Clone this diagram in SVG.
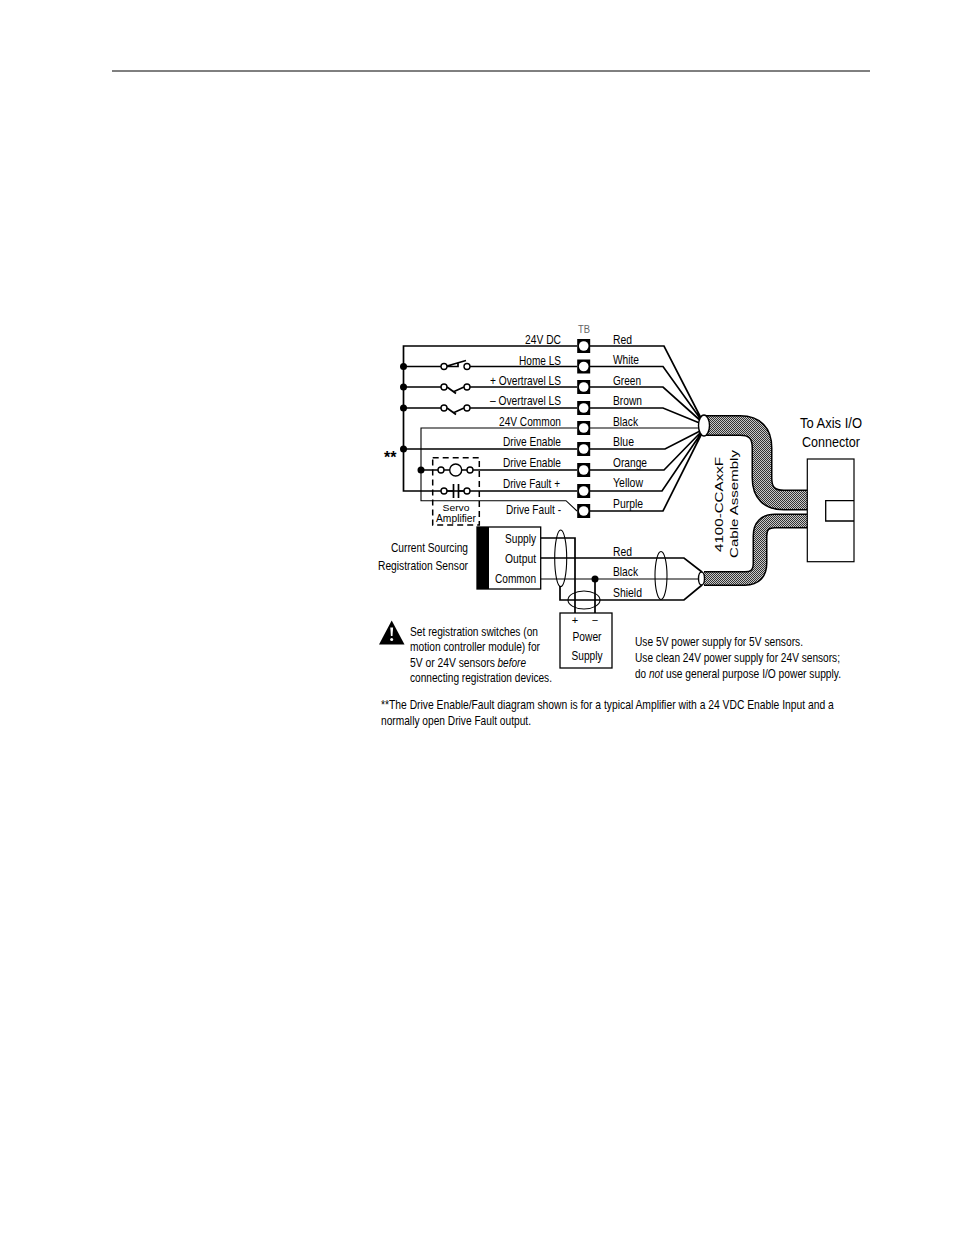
<svg xmlns="http://www.w3.org/2000/svg" width="954" height="1235" viewBox="0 0 954 1235">
<style>
text{font-family:"Liberation Sans",Arial,sans-serif;font-size:13.2px;fill:#000}
.e{text-anchor:end}.m{text-anchor:middle}
.w{fill:none;stroke:#000;stroke-width:1.7}
.t{fill:none;stroke:#000;stroke-width:1.1}
.o{fill:#fff;stroke:#000;stroke-width:1.4}
.d{fill:#000}
.big{font-size:14px}
.i{font-style:italic}
</style>
<defs>
<pattern id="dither" width="2" height="2" patternUnits="userSpaceOnUse"><rect width="2" height="2" fill="#c8c8c8"/><rect width="1" height="1" fill="#333"/><rect x="1" y="1" width="1" height="1" fill="#333"/></pattern>
<g id="term"><rect x="-6.500" y="-7" width="13" height="14" fill="#000"/><circle r="4.800" fill="#fff"/></g>
</defs>
<rect width="954" height="1235" fill="#fff"/>
<line id="header-rule" x1="112" y1="71" x2="870" y2="71" stroke="#000" stroke-width="1"/>

<g id="connectors">
<path class="w" d="M577,346H403.500V491H577"/>
<path class="w" d="M403.500,366.500H441M470,366.500H577M403.500,387H441M470,387H577M403.500,408H441M470,408H577M403.500,449H577"/>
<path class="t" d="M577,428H421V500.700H566L577,511"/>
<path class="w" d="M421,470H438M473,470H577"/>
<path class="w" d="M590,346H664L702,420M590,366.500H663L702,421M590,387H663L702,422M590,408H663L702,424"/>
<path class="t" d="M590,428H700"/>
<path class="w" d="M590,449H665L702,430M590,470H664L702,431M590,491H662L702,432M590,511H663L702,433"/>
<path class="w" d="M540,538H575V613M540,558H684L702,572M595,579V613"/>
<path class="t" d="M540,579H700"/>
<path class="w" d="M560,586V600H684L702,585"/>
<g id="junctions">
<circle class="d" cx="403.500" cy="366.500" r="3.500"/><circle class="d" cx="403.500" cy="387" r="3.500"/><circle class="d" cx="403.500" cy="408" r="3.500"/><circle class="d" cx="403.500" cy="449" r="3.500"/><circle class="d" cx="421" cy="470" r="3.500"/><circle class="d" cx="595" cy="579" r="3.500"/>
</g>
<g id="cable-upper" fill="none">
<path d="M706,425.500H740Q762,425.500 762,448V478Q762,500 784,500H807" stroke="#000" stroke-width="21"/>
<path d="M706,425.500H740Q762,425.500 762,448V478Q762,500 784,500H807" stroke="url(#dither)" stroke-width="18"/>
</g>
<g id="cable-lower" fill="none">
<path d="M704,578.500H745Q760,578.500 760,563V536Q760,521 775,521H807" stroke="#000" stroke-width="15"/>
<path d="M704,578.500H745Q760,578.500 760,563V536Q760,521 775,521H807" stroke="url(#dither)" stroke-width="12"/>
</g>
<ellipse class="o" cx="704" cy="425.500" rx="5.500" ry="10.500"/>
<ellipse class="o" cx="701.500" cy="578.500" rx="3" ry="6.500"/>
<g fill="none" stroke="#000" stroke-width="1.100">
<ellipse cx="560.700" cy="558.300" rx="6" ry="28.300"/>
<ellipse cx="584" cy="600" rx="16" ry="9"/>
<ellipse cx="661" cy="575.500" rx="6" ry="24"/>
</g>
</g>

<g id="terminal-block">
<text x="584" y="333" class="m" style="font-size:10px;fill:#666" textLength="12" lengthAdjust="spacingAndGlyphs">TB</text>
<use href="#term" x="583.700" y="346"/><use href="#term" x="583.700" y="366.500"/><use href="#term" x="583.700" y="387"/><use href="#term" x="583.700" y="408"/><use href="#term" x="583.700" y="428"/><use href="#term" x="583.700" y="449"/><use href="#term" x="583.700" y="470"/><use href="#term" x="583.700" y="491"/><use href="#term" x="583.700" y="511"/>
</g>

<g id="switch-home">
<circle class="o" cx="444" cy="366.500" r="3"/><circle class="o" cx="467" cy="366.500" r="3"/>
<path class="w" d="M447,366.500H458V362.500M447,366L466,360.500"/>
</g>
<g id="switch-over-plus">
<circle class="o" cx="444" cy="387" r="3"/><circle class="o" cx="467" cy="387" r="3"/>
<path class="w" d="M447,387L456,393.500M453,392L464,387"/>
</g>
<g id="switch-over-minus">
<circle class="o" cx="444" cy="408" r="3"/><circle class="o" cx="467" cy="408" r="3"/>
<path class="w" d="M447,408L456,414.500M453,413L464,408"/>
</g>
<g id="servo-amplifier">
<rect x="432.700" y="457.700" width="46.600" height="67.300" fill="none" stroke="#000" stroke-width="1.500" stroke-dasharray="6 4"/>
<circle class="o" cx="441" cy="470" r="3"/><circle class="o" cx="455.700" cy="470" r="6"/><circle class="o" cx="470" cy="470" r="3"/>
<path class="w" d="M444,470H449.700M461.700,470H467"/>
<circle class="o" cx="444" cy="491" r="3"/><circle class="o" cx="467" cy="491" r="3"/>
<path class="w" d="M447,491H453.500M453.500,484V498M458.500,484V498M458.500,491H464"/>
<text x="456" y="511" class="m" textLength="27" lengthAdjust="spacingAndGlyphs" style="font-size:9.500px">Servo</text>
<text x="456" y="522" class="m" textLength="40" lengthAdjust="spacingAndGlyphs" style="font-size:10.500px">Amplifier</text>
</g>

<g id="left-labels">
<text x="561" y="343.500" class="e" textLength="36" lengthAdjust="spacingAndGlyphs">24V DC</text>
<text x="561" y="364.500" class="e" textLength="42" lengthAdjust="spacingAndGlyphs">Home LS</text>
<text x="561" y="385" class="e" textLength="71" lengthAdjust="spacingAndGlyphs">+ Overtravel LS</text>
<text x="561" y="405" class="e" textLength="71" lengthAdjust="spacingAndGlyphs">– Overtravel LS</text>
<text x="561" y="426" class="e" textLength="62" lengthAdjust="spacingAndGlyphs">24V Common</text>
<text x="561" y="446" class="e" textLength="58" lengthAdjust="spacingAndGlyphs">Drive Enable</text>
<text x="561" y="466.500" class="e" textLength="58" lengthAdjust="spacingAndGlyphs">Drive Enable</text>
<text x="560" y="487.500" class="e" textLength="57" lengthAdjust="spacingAndGlyphs">Drive Fault +</text>
<text x="561" y="513.500" class="e" textLength="55" lengthAdjust="spacingAndGlyphs">Drive Fault -</text>
<text x="384" y="463" style="font-size:16px;font-weight:bold">**</text>
</g>

<g id="wire-labels">
<text x="613" y="343.500" textLength="19" lengthAdjust="spacingAndGlyphs">Red</text>
<text x="613" y="364" textLength="26" lengthAdjust="spacingAndGlyphs">White</text>
<text x="613" y="384.500" textLength="28" lengthAdjust="spacingAndGlyphs">Green</text>
<text x="613" y="405" textLength="29" lengthAdjust="spacingAndGlyphs">Brown</text>
<text x="613" y="425.500" textLength="25" lengthAdjust="spacingAndGlyphs">Black</text>
<text x="613" y="445.500" textLength="21" lengthAdjust="spacingAndGlyphs">Blue</text>
<text x="613" y="466.500" textLength="34" lengthAdjust="spacingAndGlyphs">Orange</text>
<text x="613" y="487" textLength="30" lengthAdjust="spacingAndGlyphs">Yellow</text>
<text x="613" y="507.500" textLength="30" lengthAdjust="spacingAndGlyphs">Purple</text>
<text x="613" y="555.500" textLength="19" lengthAdjust="spacingAndGlyphs">Red</text>
<text x="613" y="576" textLength="25" lengthAdjust="spacingAndGlyphs">Black</text>
<text x="613" y="596.500" textLength="29" lengthAdjust="spacingAndGlyphs">Shield</text>
</g>

<g id="cable-label">
<text transform="translate(722.700,552) rotate(-90)" style="font-size:11.500px" textLength="95" lengthAdjust="spacingAndGlyphs">4100-CCAxxF</text>
<text transform="translate(737.700,558) rotate(-90)" style="font-size:11.500px" textLength="108" lengthAdjust="spacingAndGlyphs">Cable Assembly</text>
</g>

<g id="axis-connector">
<rect x="807.300" y="459" width="46.700" height="102.700" fill="#fff" stroke="#000" stroke-width="1.200"/>
<path d="M854,500.700H825.700V521H854" fill="none" stroke="#000" stroke-width="1.300"/>
<text x="831" y="428" class="m big" textLength="62" lengthAdjust="spacingAndGlyphs">To Axis I/O</text>
<text x="831" y="447" class="m big" textLength="58" lengthAdjust="spacingAndGlyphs">Connector</text>
</g>

<g id="registration-sensor">
<rect x="477" y="527" width="63.700" height="62" fill="#fff" stroke="#000" stroke-width="1.300"/>
<rect x="477" y="527" width="12" height="62" fill="#000"/>
<text x="536" y="542.500" class="e" textLength="31" lengthAdjust="spacingAndGlyphs">Supply</text>
<text x="536" y="563" class="e" textLength="31" lengthAdjust="spacingAndGlyphs">Output</text>
<text x="536" y="582.500" class="e" textLength="41" lengthAdjust="spacingAndGlyphs">Common</text>
<text x="468" y="551.500" class="e" textLength="77" lengthAdjust="spacingAndGlyphs">Current Sourcing</text>
<text x="468" y="569.500" class="e" textLength="90" lengthAdjust="spacingAndGlyphs">Registration Sensor</text>
</g>

<g id="power-supply">
<rect x="560" y="613" width="52" height="55" fill="#fff" stroke="#000" stroke-width="1.300"/>
<text x="575" y="624" class="m" style="font-size:11px">+</text>
<text x="595" y="624" class="m" style="font-size:11px">−</text>
<text x="587" y="641" class="m" textLength="29" lengthAdjust="spacingAndGlyphs">Power</text>
<text x="587" y="660" class="m" textLength="31" lengthAdjust="spacingAndGlyphs">Supply</text>
</g>

<g id="warning">
<path d="M391.700,620.500L404.500,644.500H379Z" fill="#000"/>
<path d="M390.300,627.500H393.100L392.500,636H390.900Z" fill="#fff"/>
<circle cx="391.700" cy="639.500" r="1.500" fill="#fff"/>
<text transform="translate(410,635.500) scale(0.8,1)" textLength="160" lengthAdjust="spacingAndGlyphs">Set registration switches (on</text>
<text transform="translate(410,650.500) scale(0.8,1)" textLength="162.500" lengthAdjust="spacingAndGlyphs">motion controller module) for</text>
<text transform="translate(410,666.500) scale(0.8,1)" textLength="106" lengthAdjust="spacingAndGlyphs">5V or 24V sensors</text>
<text x="497.500" y="666.500" class="i" textLength="28.500" lengthAdjust="spacingAndGlyphs">before</text>
<text transform="translate(410,681.500) scale(0.8,1)" textLength="177.500" lengthAdjust="spacingAndGlyphs">connecting registration devices.</text>
</g>

<g id="notes">
<text x="635" y="645.500" textLength="168" lengthAdjust="spacingAndGlyphs">Use 5V power supply for 5V sensors.</text>
<text x="635" y="661.500" textLength="205" lengthAdjust="spacingAndGlyphs">Use clean 24V power supply for 24V sensors;</text>
<text x="635" y="677.500" textLength="11" lengthAdjust="spacingAndGlyphs">do</text>
<text x="649" y="677.500" class="i" textLength="14" lengthAdjust="spacingAndGlyphs">not</text>
<text x="666" y="677.500" textLength="175" lengthAdjust="spacingAndGlyphs">use general purpose I/O power supply.</text>
<text transform="translate(381,708.500) scale(0.8,1)" textLength="566" lengthAdjust="spacingAndGlyphs">**The Drive Enable/Fault diagram shown is for a typical Amplifier with a 24 VDC Enable Input  and a</text>
<text x="381" y="724.500" textLength="150" lengthAdjust="spacingAndGlyphs">normally open Drive Fault output.</text>
</g>
</svg>
